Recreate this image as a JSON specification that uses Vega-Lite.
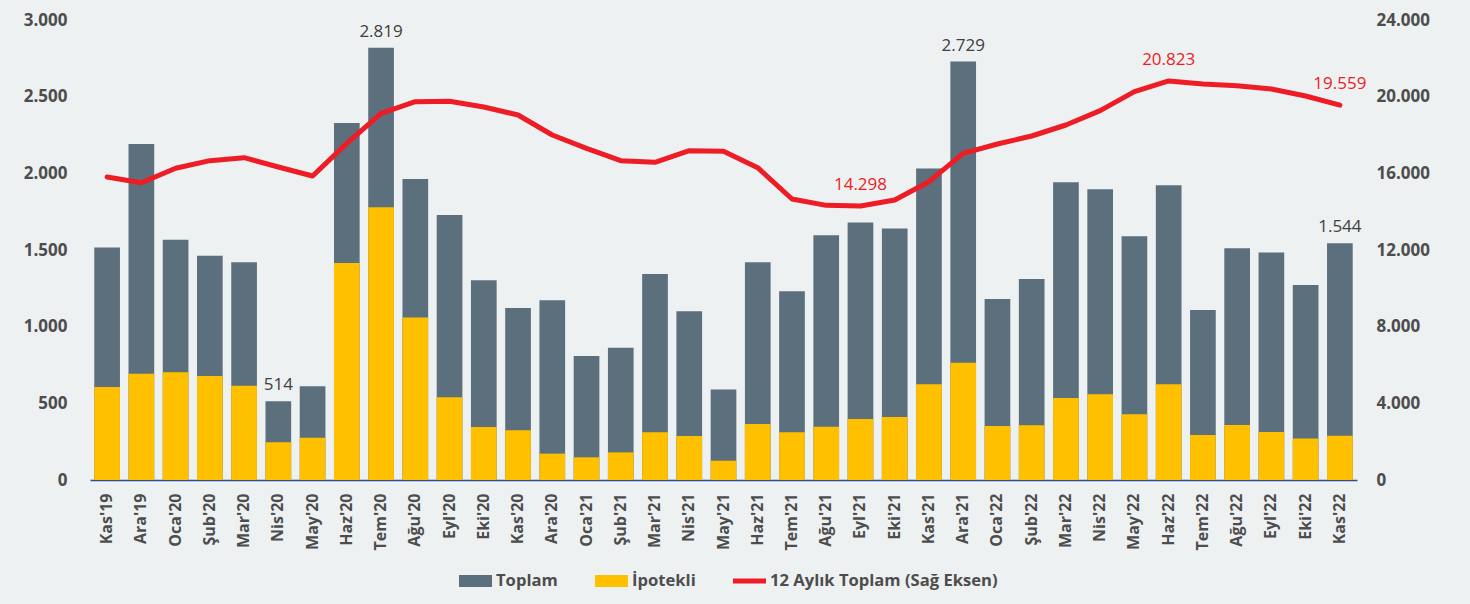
{
  "$schema": "https://vega.github.io/schema/vega-lite/v6.json",
  "autosize": "none",
  "width": 1267,
  "height": 460,
  "padding": {"left": 90, "top": 20, "right": 113, "bottom": 124},
  "background": "#EDF1F2",
  "config": {
    "view": {"stroke": null},
    "locale": {"number": {"decimal": ",", "thousands": ".", "grouping": [3], "currency": ["", ""]}},
    "font": "Open Sans"
  },
  "data": {"values": [
    {"month": "Kas'19", "toplam": 1517, "ipotekli": 607, "yillik": 15808},
    {"month": "Ara'19", "toplam": 2191, "ipotekli": 693, "yillik": 15512},
    {"month": "Oca'20", "toplam": 1567, "ipotekli": 702, "yillik": 16262},
    {"month": "Şub'20", "toplam": 1463, "ipotekli": 678, "yillik": 16661},
    {"month": "Mar'20", "toplam": 1420, "ipotekli": 615, "yillik": 16816},
    {"month": "Nis'20", "toplam": 514, "ipotekli": 246, "yillik": 16330},
    {"month": "May'20", "toplam": 611, "ipotekli": 276, "yillik": 15860},
    {"month": "Haz'20", "toplam": 2328, "ipotekli": 1415, "yillik": 17565},
    {"month": "Tem'20", "toplam": 2819, "ipotekli": 1779, "yillik": 19130},
    {"month": "Ağu'20", "toplam": 1963, "ipotekli": 1059, "yillik": 19737},
    {"month": "Eyl'20", "toplam": 1728, "ipotekli": 539, "yillik": 19760},
    {"month": "Eki'20", "toplam": 1302, "ipotekli": 346, "yillik": 19460},
    {"month": "Kas'20", "toplam": 1122, "ipotekli": 324, "yillik": 19043},
    {"month": "Ara'20", "toplam": 1172, "ipotekli": 172, "yillik": 18000},
    {"month": "Oca'21", "toplam": 809, "ipotekli": 148, "yillik": 17304},
    {"month": "Şub'21", "toplam": 863, "ipotekli": 180, "yillik": 16661},
    {"month": "Mar'21", "toplam": 1343, "ipotekli": 311, "yillik": 16574},
    {"month": "Nis'21", "toplam": 1100, "ipotekli": 287, "yillik": 17180},
    {"month": "May'21", "toplam": 591, "ipotekli": 126, "yillik": 17150},
    {"month": "Haz'21", "toplam": 1420, "ipotekli": 365, "yillik": 16296},
    {"month": "Tem'21", "toplam": 1231, "ipotekli": 311, "yillik": 14661},
    {"month": "Ağu'21", "toplam": 1596, "ipotekli": 348, "yillik": 14330},
    {"month": "Eyl'21", "toplam": 1679, "ipotekli": 398, "yillik": 14298},
    {"month": "Eki'21", "toplam": 1640, "ipotekli": 411, "yillik": 14609},
    {"month": "Kas'21", "toplam": 2031, "ipotekli": 624, "yillik": 15565},
    {"month": "Ara'21", "toplam": 2729, "ipotekli": 765, "yillik": 17043},
    {"month": "Oca'22", "toplam": 1180, "ipotekli": 352, "yillik": 17530},
    {"month": "Şub'22", "toplam": 1311, "ipotekli": 357, "yillik": 17948},
    {"month": "Mar'22", "toplam": 1942, "ipotekli": 535, "yillik": 18522},
    {"month": "Nis'22", "toplam": 1896, "ipotekli": 559, "yillik": 19270},
    {"month": "May'22", "toplam": 1590, "ipotekli": 428, "yillik": 20260},
    {"month": "Haz'22", "toplam": 1922, "ipotekli": 624, "yillik": 20823},
    {"month": "Tem'22", "toplam": 1109, "ipotekli": 293, "yillik": 20660},
    {"month": "Ağu'22", "toplam": 1511, "ipotekli": 359, "yillik": 20574},
    {"month": "Eyl'22", "toplam": 1483, "ipotekli": 313, "yillik": 20400},
    {"month": "Eki'22", "toplam": 1272, "ipotekli": 270, "yillik": 20035},
    {"month": "Kas'22", "toplam": 1544, "ipotekli": 289, "yillik": 19559}
  ]},
  "encoding": {
    "x": {
      "field": "month", "type": "ordinal", "sort": null,
      "scale": {"paddingInner": 0.25, "paddingOuter": 0.125},
      "axis": {
        "title": null, "labelAngle": -90, "ticks": false, "domainColor": "#2E4B9B", "domainWidth": 1.5,
        "labelFont": "Open Sans", "labelFontWeight": "bold", "labelFontSize": 16, "labelColor": "#4D4D4D",
        "labelPadding": 13
      }
    }
  },
  "layer": [
    {
      "layer": [
        {
          "mark": {"type": "bar"},
          "encoding": {
            "y": {
              "field": "toplam", "type": "quantitative",
              "scale": {"domain": [0, 3000], "nice": false},
              "axis": {
                "title": null, "orient": "left", "values": [0, 500, 1000, 1500, 2000, 2500, 3000], "format": ",d",
                "domain": false, "ticks": false, "grid": false, "labelPadding": 23,
                "labelFont": "Open Sans", "labelFontWeight": "bold", "labelFontSize": 17, "labelColor": "#4D4D4D"
              }
            },
            "color": {
              "datum": "Toplam",
              "scale": {"domain": ["Toplam", "İpotekli", "12 Aylık Toplam (Sağ Eksen)"], "range": ["#5B6F7D", "#FFC000", "#EE1C25"]},
              "legend": {
                "title": null, "orient": "none", "legendX": 369, "legendY": 544, "direction": "horizontal",
                "columnPadding": 37, "labelOffset": 4, "symbolSize": 1089, "symbolStrokeWidth": 0, "labelLimit": 400,
                "labelFont": "Open Sans", "labelFontWeight": "bold", "labelFontSize": 16.6, "labelColor": "#4D4D4D",
                "encode": {"symbols": {"update": {"shape": {"signal": "datum.value === '12 Aylık Toplam (Sağ Eksen)' ? 'M-1,-0.15H1V0.15H-1Z' : 'M-1,-0.36H1V0.36H-1Z'"}, "opacity": {"value": 1}}}}
              }
            }
          }
        },
        {
          "mark": {"type": "bar"},
          "encoding": {
            "y": {
              "field": "ipotekli", "type": "quantitative",
              "axis": {
                "title": null, "orient": "left", "values": [0, 500, 1000, 1500, 2000, 2500, 3000], "format": ",d",
                "domain": false, "ticks": false, "grid": false, "labelPadding": 23,
                "labelFont": "Open Sans", "labelFontWeight": "bold", "labelFontSize": 17, "labelColor": "#4D4D4D"
              }
            },
            "color": {"datum": "İpotekli"}
          }
        },
        {
          "transform": [{"filter": {"field": "month", "oneOf": ["Nis'20", "Tem'20", "Ara'21", "Kas'22"]}}],
          "mark": {"type": "text", "baseline": "alphabetic", "dy": -11, "font": "Open Sans", "fontSize": 17, "color": "#404040"},
          "encoding": {
            "y": {
              "field": "toplam", "type": "quantitative",
              "axis": {
                "title": null, "orient": "left", "values": [0, 500, 1000, 1500, 2000, 2500, 3000], "format": ",d",
                "domain": false, "ticks": false, "grid": false, "labelPadding": 23,
                "labelFont": "Open Sans", "labelFontWeight": "bold", "labelFontSize": 17, "labelColor": "#4D4D4D"
              }
            },
            "text": {"field": "toplam", "type": "quantitative", "format": ",d"}
          }
        }
      ]
    },
    {
      "layer": [
        {
          "mark": {"type": "line", "color": "#EE1C25", "strokeWidth": 5, "strokeCap": "round", "strokeJoin": "round"},
          "encoding": {
            "y": {
              "field": "yillik", "type": "quantitative",
              "scale": {"domain": [0, 24000], "nice": false},
              "axis": {
                "title": null, "orient": "right", "values": [0, 4000, 8000, 12000, 16000, 20000, 24000], "format": ",d",
                "domain": false, "ticks": false, "grid": false, "labelPadding": 19,
                "labelFont": "Open Sans", "labelFontWeight": "bold", "labelFontSize": 17, "labelColor": "#4D4D4D"
              }
            }
          }
        },
        {
          "transform": [{"filter": {"field": "month", "oneOf": ["Eyl'21", "Haz'22", "Kas'22"]}}],
          "mark": {"type": "text", "baseline": "alphabetic", "dy": -16, "font": "Open Sans", "fontSize": 17, "color": "#EE1C25"},
          "encoding": {
            "y": {
              "field": "yillik", "type": "quantitative",
              "axis": {
                "title": null, "orient": "right", "values": [0, 4000, 8000, 12000, 16000, 20000, 24000], "format": ",d",
                "domain": false, "ticks": false, "grid": false, "labelPadding": 19,
                "labelFont": "Open Sans", "labelFontWeight": "bold", "labelFontSize": 17, "labelColor": "#4D4D4D"
              }
            },
            "text": {"field": "yillik", "type": "quantitative", "format": ",d"}
          }
        }
      ]
    }
  ],
  "resolve": {"scale": {"y": "independent"}}
}
